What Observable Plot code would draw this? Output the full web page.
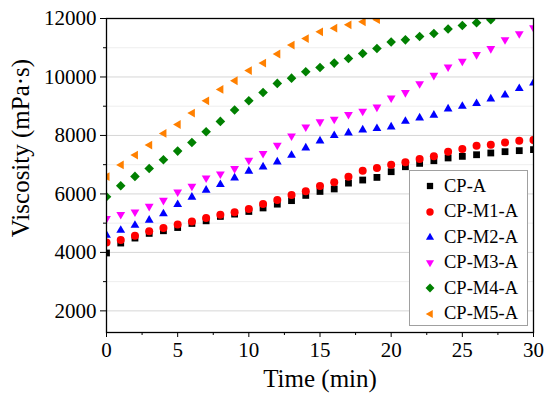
<!DOCTYPE html>
<html><head><meta charset="utf-8">
<script src="https://cdn.jsdelivr.net/npm/d3@7"></script>
<script src="https://cdn.jsdelivr.net/npm/@observablehq/plot@0.6"></script>
<style>
body{margin:0;background:#fff;}
#wrap{position:relative;width:550px;height:407px;font-family:"Liberation Serif",serif;}
#legend{position:absolute;left:409px;top:170px;width:119px;height:156px;border:1px solid #a0a0a0;background:#fff;box-sizing:border-box;}
.row{position:absolute;left:0;height:24px;display:flex;align-items:center;font-size:18.5px;color:#000;white-space:nowrap;}
.row svg{margin-left:14px;margin-right:8px;}
#ylabel{position:absolute;left:20px;top:148px;transform:translate(-50%,-50%) rotate(-90deg);font-size:25px;white-space:nowrap;color:#000;line-height:1;}
</style></head><body><div id="wrap"></div><script>
// ---- data (time in min, viscosity in mPa·s) ----
const time = [0,1,2,3,4,5,6,7,8,9,10,11,12,13,14,15,16,17,18,19,20,21,22,23,24,25,26,27,28,29,30];
const cpA  = [3980,4320,4490,4650,4740,4850,4990,5080,5230,5310,5400,5520,5650,5770,5950,6085,6170,6370,6475,6565,6760,6930,7045,7135,7230,7285,7340,7400,7445,7480,7515];
const cpM1 = [4340,4425,4570,4720,4835,4950,5060,5175,5290,5370,5485,5655,5790,5960,6095,6270,6395,6590,6795,6885,7000,7080,7195,7285,7445,7535,7650,7685,7760,7820,7845];
const cpM2 = [4605,4775,4945,5120,5335,5655,5905,6145,6340,6565,6795,6940,7110,7340,7590,7830,8015,8105,8205,8255,8310,8500,8615,8710,8925,9015,9110,9265,9400,9620,9810];
const cpM3 = [5140,5280,5365,5560,5765,6050,6245,6530,6665,6850,7135,7365,7650,7965,8275,8450,8540,8700,8810,8955,9265,9450,9755,10040,10325,10520,10750,10955,11260,11465,11670];
const cpM4 = [5905,6280,6600,6870,7170,7465,7760,8125,8480,8870,9185,9470,9780,9960,10180,10325,10475,10630,10805,10975,11195,11270,11385,11485,11640,11760,11855,11955];
const cpM5 = [6590,6990,7330,7670,8070,8375,8765,9185,9575,9870,10220,10475,10785,11090,11315,11545,11670,11785,11885,11960];
const seriesNames = ["CP-A","CP-M1-A","CP-M2-A","CP-M3-A","CP-M4-A","CP-M5-A"];
const seriesValues = [cpA,cpM1,cpM2,cpM3,cpM4,cpM5];
const colors = ["#000000","#ff0000","#0000ff","#ff00ff","#008000","#ff8000"];
const majorY = [2000,4000,6000,8000,10000,12000];
const minorY = [3000,5000,7000,9000,11000];
const majorX = [0,5,10,15,20,25,30];
const minorX = [2.5,7.5,12.5,17.5,22.5,27.5];
const xTitle = "Time (min)";
const yTitle = "Viscosity (mPa·s)";

// ---- symbols ----
const sym = fn => ({draw(ctx,size){const r=Math.sqrt(size/Math.PI); fn(ctx,r);}});
const symbols = [
  sym((c,r)=>{c.rect(-0.85*r,-0.85*r,1.7*r,1.7*r);}),
  sym((c,r)=>{c.moveTo(r,0);c.arc(0,0,r,0,2*Math.PI);}),
  sym((c,r)=>{c.moveTo(0,-1.15*r);c.lineTo(1.1*r,0.75*r);c.lineTo(-1.1*r,0.75*r);c.closePath();}),
  sym((c,r)=>{c.moveTo(0,1.15*r);c.lineTo(1.1*r,-0.75*r);c.lineTo(-1.1*r,-0.75*r);c.closePath();}),
  sym((c,r)=>{c.moveTo(0,-1.2*r);c.lineTo(1.2*r,0);c.lineTo(0,1.2*r);c.lineTo(-1.2*r,0);c.closePath();}),
  sym((c,r)=>{c.moveTo(-1.15*r,0);c.lineTo(0.75*r,-1.1*r);c.lineTo(0.75*r,1.1*r);c.closePath();})
];

const tables = seriesValues.map((vals,i)=>vals.map((v,j)=>({t:time[j], v, s:seriesNames[i]})));

const chart = Plot.plot({
  width:550, height:407,
  marginLeft:106, marginRight:17, marginTop:18, marginBottom:75,
  style:{fontFamily:"Liberation Serif", fontSize:"21px", color:"#000", background:"#fff"},
  x:{domain:[0,30]},
  y:{domain:[1260,12000]},
  marks:[
    Plot.gridY(minorY,{stroke:"#eeeeee", strokeOpacity:1}),
    Plot.gridY(majorY,{stroke:"#d6d6d6", strokeOpacity:1}),
    Plot.axisY(majorY,{tickSize:6, tickPadding:4, tickFormat:d3.format("d"), label:null}),
    Plot.axisY(minorY,{tickSize:3, tickFormat:()=>"", label:null}),
    Plot.axisX(majorX,{tickSize:5, tickPadding:5, label:null}),
    Plot.axisX(minorX,{tickSize:3, tickFormat:()=>"", label:null}),
    ...tables.map((tb,i)=>Plot.dot(tb,{x:"t", y:"v", r:4, symbol:symbols[i], fill:colors[i], stroke:"none", clip:"frame"})),
    Plot.frame({stroke:"#000", strokeWidth:1.3}),
    Plot.text([xTitle],{text:d=>d, frameAnchor:"bottom", dy:54, fontSize:25})
  ]
});
const wrap = document.getElementById("wrap");
wrap.appendChild(chart);

// ---- y title ----
const yl = document.createElement("div");
yl.id = "ylabel";
yl.textContent = yTitle;
wrap.appendChild(yl);

// ---- legend ----
const legend = document.createElement("div");
legend.id = "legend";
seriesNames.forEach((name,i)=>{
  const p = d3.path();
  symbols[i].draw(p, Math.PI*3.7*3.7);
  const row = document.createElement("div");
  row.className = "row";
  row.style.top = (3 + i*25.5) + "px";
  row.innerHTML = `<svg width="12" height="12" viewBox="-6 -6 12 12"><path d="${p.toString()}" fill="${colors[i]}"/></svg><span>${name}</span>`;
  legend.appendChild(row);
});
wrap.appendChild(legend);
</script></body></html>
